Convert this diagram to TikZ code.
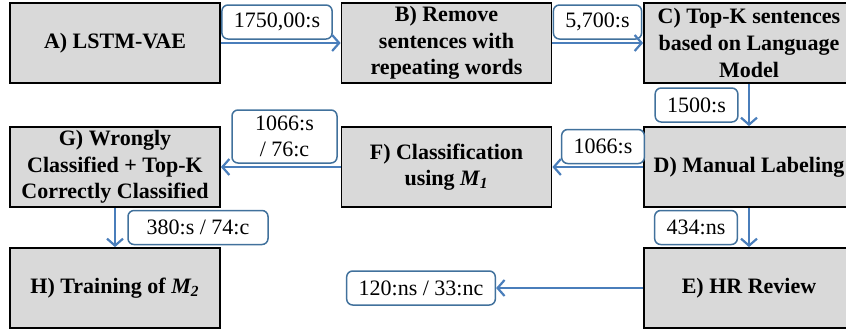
\documentclass[tikz,border=0pt]{standalone}
\usepackage{fontspec}
\setmainfont{Liberation Serif}
\usetikzlibrary{arrows.meta}
\definecolor{boxgray}{HTML}{D9D9D9}
\definecolor{flowblue}{HTML}{4A7EBB}
\definecolor{tagblue}{HTML}{41719C}
\tikzset{
  stage/.style={draw=black, line width=0.9pt, fill=boxgray, minimum width=105pt,
    minimum height=40pt, inner sep=1pt, align=center,
    font=\fontsize{11}{13.3}\selectfont\bfseries},
  numtag/.style={draw=tagblue, line width=0.75pt, fill=white, rounded corners=3pt,
    minimum height=17pt, inner xsep=6pt, inner ysep=1pt, align=center,
    font=\fontsize{11}{13.3}\selectfont},
  flow/.style={draw=flowblue, line width=1.1pt, ->},
  >={Straight Barb[length=3.5pt,width=8pt]}
}
\begin{document}
\begin{tikzpicture}[x=0.5pt,y=-0.5pt]
\useasboundingbox (0,0) rectangle (846,334);
\clip (0,0) rectangle (846,334);

% stages
\node[stage] (lstm) at (115,43) {A) LSTM-VAE};
\node[stage] (filter) at (446.5,43) {B) Remove\\sentences with\\repeating words};
\node[stage] (topk) at (749,43) {C) Top-K sentences\\based on Language\\Model};
\node[stage] (manual) at (749,167) {D) Manual Labeling};
\node[stage] (hr) at (749,288) {E) HR Review};
\node[stage] (classify) at (446.5,167) {F) Classification\\using \textit{M\textsubscript{1}}};
\node[stage] (wrong) at (115,167) {G) Wrongly\\Classified + Top-K\\Correctly Classified};
\node[stage] (train) at (115,288) {H) Training of \textit{M\textsubscript{2}}};

% counts
\node[numtag] (ab) at (277,22) {1750,00:s};
\node[numtag] (bc) at (597.5,22) {5,700:s};
\node[numtag] (cd) at (696.5,105) {1500:s};
\node[numtag] (df) at (603,146.5) {1066:s};
\node[numtag, minimum height=26.5pt, minimum width=52.5pt] (fg) at (284.5,136.5) {1066:s\\/ 76:c};
\node[numtag, minimum width=70pt] (gh) at (198,227.5) {380:s / 74:c};
\node[numtag] (de) at (696,227.5) {434:ns};
\node[numtag, minimum width=73pt] (hrout) at (421,288) {120:ns / 33:nc};

% flow
\draw[flow] (lstm) -- (filter);
\draw[flow] (filter) -- (topk);
\draw[flow] (topk) -- (manual);
\draw[flow] (manual) -- (classify);
\draw[flow] (classify) -- (wrong);
\draw[flow] (wrong) -- (train);
\draw[flow] (manual) -- (hr);
\draw[flow] (hr) -- (hrout);

\end{tikzpicture}
\end{document}
